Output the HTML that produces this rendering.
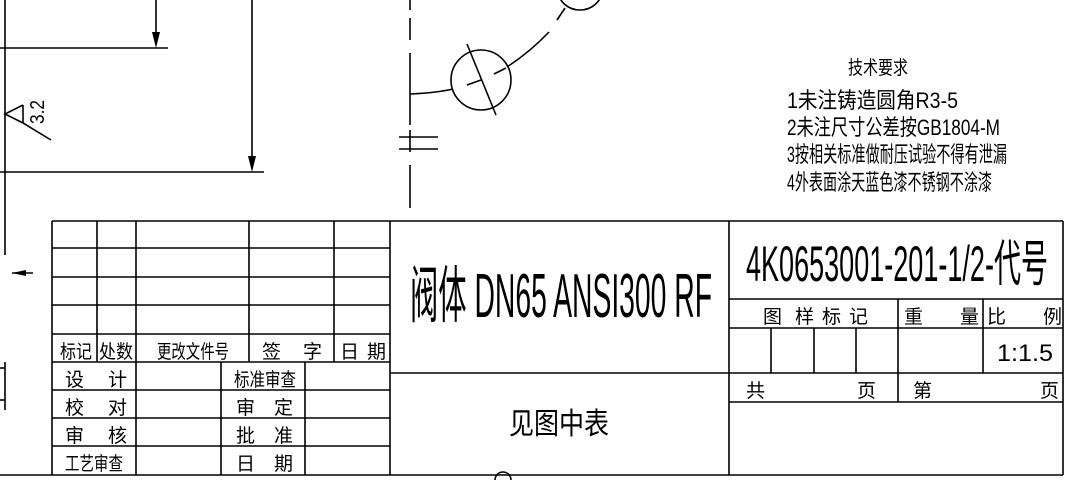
<!DOCTYPE html>
<html><head><meta charset="utf-8"><style>
html,body{margin:0;padding:0;background:#fff;}
svg{display:block;}
text{font-family:"Liberation Sans","Noto Sans CJK SC",sans-serif;fill:#000;}
</style></head><body>
<svg width="1072" height="482" viewBox="0 0 1072 482" xmlns="http://www.w3.org/2000/svg">
<g stroke="#000" stroke-width="1.6" fill="none">
<line x1="5" y1="0" x2="5" y2="255"/>
<line x1="5" y1="362" x2="5" y2="410"/>
<line x1="0" y1="368" x2="5" y2="368"/>
<line x1="0" y1="400" x2="5" y2="400"/>
<line x1="0" y1="48" x2="168" y2="48"/>
<line x1="156" y1="0" x2="156" y2="40"/>
<line x1="0" y1="172" x2="264" y2="172"/>
<line x1="252" y1="0" x2="252" y2="164"/>
<line x1="12" y1="273" x2="33" y2="273"/>
<polyline points="23,105 5,114 23,123 51,140"/>
<line x1="23" y1="105" x2="23" y2="123"/>
<line x1="410" y1="0" x2="410" y2="10"/>
<line x1="410" y1="18" x2="410" y2="40"/>
<line x1="410" y1="53" x2="410" y2="125"/>
<line x1="410" y1="130" x2="410" y2="152"/>
<line x1="410" y1="165" x2="410" y2="208"/>
<line x1="399" y1="137" x2="438" y2="137"/>
<line x1="399" y1="149" x2="438" y2="149"/>
<circle cx="481" cy="80" r="30"/>
<path d="M410 94 Q435 93 453 89"/>
<path d="M507 67 Q530 52 549 32"/>
<path d="M557 20 L565 8"/>
<line x1="467" y1="44" x2="496" y2="115"/>
<line x1="467" y1="85" x2="481" y2="80"/>
<line x1="494" y1="74" x2="506" y2="68"/>
<ellipse cx="580" cy="-10" rx="22" ry="20"/>
<path d="M495 480 A8 8 0 0 1 511 480"/>
<line x1="0" y1="475" x2="1063" y2="475"/>
<line x1="52" y1="221" x2="1063" y2="221"/>
<line x1="52" y1="221" x2="52" y2="475"/>
<line x1="390" y1="221" x2="390" y2="475"/>
<line x1="729" y1="221" x2="729" y2="475"/>
<line x1="1063" y1="221" x2="1063" y2="475"/>
<line x1="52" y1="248" x2="390" y2="248"/>
<line x1="52" y1="277" x2="390" y2="277"/>
<line x1="52" y1="305" x2="390" y2="305"/>
<line x1="52" y1="334" x2="390" y2="334"/>
<line x1="52" y1="362" x2="390" y2="362"/>
<line x1="52" y1="390" x2="390" y2="390"/>
<line x1="52" y1="418" x2="390" y2="418"/>
<line x1="52" y1="446" x2="390" y2="446"/>
<line x1="97" y1="221" x2="97" y2="362"/>
<line x1="136" y1="221" x2="136" y2="475"/>
<line x1="249" y1="221" x2="249" y2="362"/>
<line x1="334" y1="221" x2="334" y2="362"/>
<line x1="221" y1="362" x2="221" y2="475"/>
<line x1="305" y1="362" x2="305" y2="475"/>
<line x1="390" y1="373" x2="729" y2="373"/>
<line x1="729" y1="299" x2="1063" y2="299"/>
<line x1="729" y1="328" x2="1063" y2="328"/>
<line x1="729" y1="373" x2="1063" y2="373"/>
<line x1="729" y1="402" x2="1063" y2="402"/>
<line x1="898" y1="299" x2="898" y2="402"/>
<line x1="983" y1="299" x2="983" y2="373"/>
<line x1="771" y1="328" x2="771" y2="373"/>
<line x1="814" y1="328" x2="814" y2="373"/>
<line x1="856" y1="328" x2="856" y2="373"/>
</g>
<g fill="#000">
<polygon points="152,32 160,32 156,48"/>
<polygon points="248,156 256,156 252,172"/>
<polygon points="12,273 26,270 26,276"/>
</g>
<text x="44" y="124" font-size="20" transform="rotate(-90 44 124)" textLength="24" lengthAdjust="spacingAndGlyphs">3.2</text>
<text x="848" y="74" font-size="19" textLength="60" lengthAdjust="spacingAndGlyphs">技术要求</text>
<text x="787" y="108" font-size="22" textLength="171" lengthAdjust="spacingAndGlyphs">1未注铸造圆角R3-5</text>
<text x="787" y="135" font-size="22" textLength="213" lengthAdjust="spacingAndGlyphs">2未注尺寸公差按GB1804-M</text>
<text x="787" y="162" font-size="22" textLength="220" lengthAdjust="spacingAndGlyphs">3按相关标准做耐压试验不得有泄漏</text>
<text x="787" y="190" font-size="22" textLength="205" lengthAdjust="spacingAndGlyphs">4外表面涂天蓝色漆不锈钢不涂漆</text>
<g font-size="19">
<text x="60" y="358" textLength="32" lengthAdjust="spacingAndGlyphs">标记</text>
<text x="99" y="358" textLength="34" lengthAdjust="spacingAndGlyphs">处数</text>
<text x="157" y="358" textLength="72" lengthAdjust="spacingAndGlyphs">更改文件号</text>
<text x="262" y="358">签</text><text x="303" y="358">字</text>
<text x="340" y="358">日</text><text x="367" y="358">期</text>
<text x="65" y="386">设</text><text x="108" y="386">计</text>
<text x="65" y="414">校</text><text x="108" y="414">对</text>
<text x="65" y="442">审</text><text x="108" y="442">核</text>
<text x="65" y="470" textLength="58" lengthAdjust="spacingAndGlyphs">工艺审查</text>
<text x="234" y="386" textLength="62" lengthAdjust="spacingAndGlyphs">标准审查</text>
<text x="236" y="414">审</text><text x="274" y="414">定</text>
<text x="236" y="442">批</text><text x="274" y="442">准</text>
<text x="236" y="470">日</text><text x="274" y="470">期</text>
</g>
<text x="410" y="317" font-size="62" textLength="302" lengthAdjust="spacingAndGlyphs">阀体 DN65 ANSI300 RF</text>
<text x="509" y="434" font-size="30" textLength="100" lengthAdjust="spacingAndGlyphs">见图中表</text>
<text x="746" y="281" font-size="50" textLength="302" lengthAdjust="spacingAndGlyphs">4K0653001-201-1/2-代号</text>
<g font-size="19">
<text x="763" y="323">图</text><text x="795" y="323">样</text><text x="822" y="323">标</text><text x="849" y="323">记</text>
<text x="904" y="323">重</text><text x="960" y="323">量</text>
<text x="987" y="323">比</text><text x="1043" y="323">例</text>
<text x="746" y="397">共</text><text x="857" y="397">页</text>
<text x="913" y="397">第</text><text x="1040" y="397">页</text>
</g>
<text x="997" y="361" font-size="24" textLength="56" lengthAdjust="spacingAndGlyphs">1:1.5</text>
</svg>
</body></html>
